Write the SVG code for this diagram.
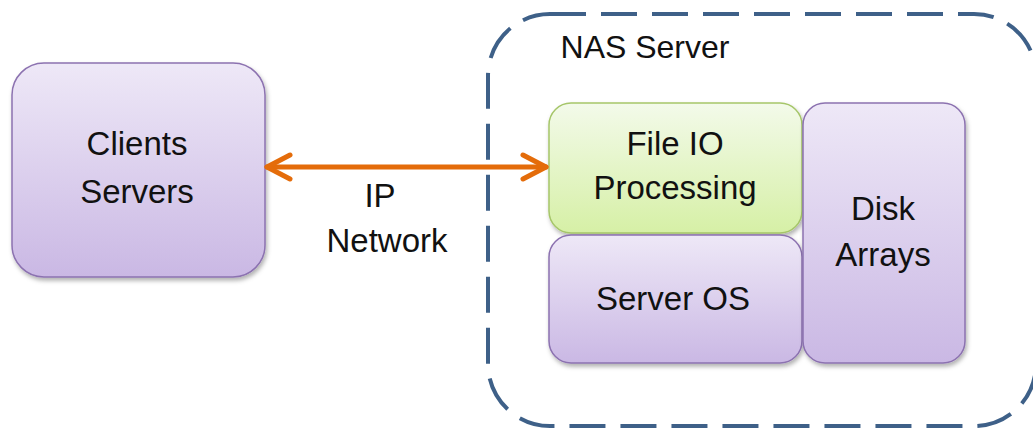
<svg xmlns="http://www.w3.org/2000/svg" width="1033" height="430" viewBox="0 0 1033 430">
  <defs>
    <linearGradient id="purpleFill" x1="0" y1="0" x2="0" y2="1">
      <stop offset="0" stop-color="#EEE8F7"/>
      <stop offset="1" stop-color="#CAB8E4"/>
    </linearGradient>
    <linearGradient id="greenFill" x1="0" y1="0" x2="0" y2="1">
      <stop offset="0" stop-color="#F3FAEA"/>
      <stop offset="1" stop-color="#D6F0A6"/>
    </linearGradient>
    <filter id="shadow" x="-10%" y="-10%" width="125%" height="130%">
      <feDropShadow dx="1.5" dy="3" stdDeviation="2" flood-color="#000" flood-opacity="0.3"/>
    </filter>
  </defs>
  <style>
    .label { font-family: "Liberation Sans", Arial, sans-serif; font-size: 33px; fill: #111; text-anchor: middle; }
    .title { font-size: 32px; }
    .purple { fill: url(#purpleFill); stroke: #8C72B0; stroke-width: 1.5; filter: url(#shadow); }
    .green { fill: url(#greenFill); stroke: #A6C66A; stroke-width: 1.5; filter: url(#shadow); }
    .link { fill: none; stroke: #E46C0A; stroke-width: 5; stroke-linecap: round; stroke-linejoin: round; }
  </style>

  <rect width="1033" height="430" fill="#FFFFFF"/>

  <!-- NAS server boundary (right edge runs off the canvas) -->
  <g id="nas-server">
    <rect x="488" y="14" width="548" height="412" rx="62" ry="62" fill="none" stroke="#3E6088" stroke-width="4" stroke-dasharray="36 15"/>
    <text class="label title" x="645" y="58">NAS Server</text>
  </g>

  <!-- Client side -->
  <g id="clients-servers">
    <rect class="purple" x="12" y="63" width="253" height="214" rx="32" ry="32"/>
    <text class="label" x="137" y="155">Clients</text>
    <text class="label" x="137" y="203">Servers</text>
  </g>

  <!-- NAS internals -->
  <g id="file-io">
    <rect class="green" x="549" y="103" width="253" height="130" rx="22" ry="22"/>
    <text class="label" x="675" y="155">File IO</text>
    <text class="label" x="675" y="199">Processing</text>
  </g>

  <g id="server-os">
    <rect class="purple" x="549" y="235" width="253" height="128" rx="22" ry="22"/>
    <text class="label" x="673" y="310">Server OS</text>
  </g>

  <g id="disk-arrays">
    <rect class="purple" x="803" y="103" width="162" height="260" rx="22" ry="22"/>
    <text class="label" x="883" y="220">Disk</text>
    <text class="label" x="883" y="266">Arrays</text>
  </g>

  <!-- Network link -->
  <g id="connectors">
    <line class="link" x1="267" y1="167" x2="546" y2="167"/>
    <polyline class="link" points="290,155 267,167 290,179"/>
    <polyline class="link" points="523,155 546,167 523,179"/>
    <text class="label" x="380" y="207">IP</text>
    <text class="label" x="387" y="252">Network</text>
  </g>
</svg>
